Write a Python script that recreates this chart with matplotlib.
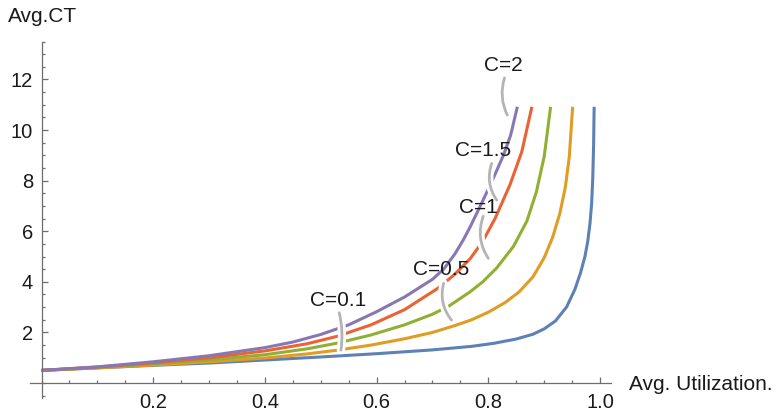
import matplotlib
matplotlib.use("Agg")
import matplotlib.pyplot as plt
import matplotlib.patheffects as pe
from matplotlib.ticker import MultipleLocator, FixedLocator

plt.rcParams["font.family"] = ["Liberation Sans", "DejaVu Sans"]

# values (utilization, average cycle time)
u_c01 = [0, .1, .2, .3, .4, .5, .6, .7, .77, .81, .85, .88, .9, .92, .94, .955,
         .965, .973, .978, .982, .985, .987, .9885, .9895]
ct_c01 = [.5, .6, .7, .79, .91, 1.03, 1.16, 1.31, 1.45, 1.57, 1.74, 1.93, 2.14, 2.45,
          3.0, 3.7, 4.35, 5.0, 5.6, 6.3, 7.1, 8.1, 9.4, 10.92]

u_c05 = [0, .1, .2, .3, .4, .475, .53, .59, .65, .7, .74, .77, .8, .83, .855, .88,
         .9, .915, .928, .938, .945, .951]
ct_c05 = [.5, .6, .71, .84, .99, 1.15, 1.3, 1.5, 1.75, 2.0, 2.27, 2.5, 2.8, 3.18,
          3.6, 4.2, 4.95, 5.75, 6.7, 7.75, 8.95, 10.92]

u_c1 = [0, .1, .2, .3, .4, .475, .53, .59, .65, .7, .73, .767, .79, .815, .845, .869,
        .886, .9, .9115]
ct_c1 = [.5, .62, .76, .92, 1.12, 1.35, 1.58, 1.9, 2.3, 2.72, 3.05, 3.6, 4.0, 4.55,
         5.4, 6.4, 7.55, 8.95, 10.92]

u_c15 = [0, .1, .2, .3, .4, .475, .53, .59, .65, .71, .74, .767, .79, .812, .839,
         .86, .878]
ct_c15 = [.5, .63, .8, 1.0, 1.27, 1.55, 1.85, 2.3, 2.9, 3.75, 4.3, 4.9, 5.6, 6.5,
          7.85, 9.15, 10.92]

u_c2 = [0, .1, .2, .3, .4, .45, .5, .55, .6, .65, .7, .72, .74, .755, .767, .79,
        .81, .827, .84, .852]
ct_c2 = [.5, .64, .84, 1.08, 1.4, 1.62, 1.92, 2.3, 2.82, 3.4, 4.1, 4.5, 5.1, 5.65,
         6.15, 7.2, 8.15, 9.0, 9.8, 10.92]

series = [(u_c01, ct_c01, "#5E81B5"), (u_c05, ct_c05, "#E19C24"),
          (u_c1, ct_c1, "#8FB032"), (u_c15, ct_c15, "#EB6235"),
          (u_c2, ct_c2, "#8778B3")]

# callouts: label, text position, leader start, leader end, bend
callouts = [("C=0.1", (0.531, 3.28), (0.533, 2.78), (0.536, 1.30), -0.1),
            ("C=0.5", (0.715, 4.49), (0.72, 3.94), (0.734, 2.49), 0.25),
            ("C=1", (0.783, 6.95), (0.791, 6.6), (0.80, 4.93), 0.25),
            ("C=1.5", (0.79, 9.21), (0.806, 8.68), (0.815, 7.23), 0.25),
            ("C=2", (0.826, 12.57), (0.829, 12.06), (0.834, 10.59), 0.2)]

fig = plt.figure(figsize=(7.77, 4.13), dpi=100)
ax = fig.add_axes([0.0391, 0.0358, 0.7475, 0.8637])
ax.set_xlim(-0.02, 1.02)
ax.set_ylim(-0.6, 13.5)

for u, ct, col in series:
    ax.plot(u, ct, color=col, lw=2.2, solid_capstyle="butt",
            solid_joinstyle="round", zorder=2)

for lab, txt, p0, p1, rad in callouts:
    ax.annotate("", xy=p1, xytext=p0,
                arrowprops=dict(arrowstyle="-", color="#b4b4b4", lw=2.0,
                                shrinkA=0, shrinkB=0,
                                connectionstyle=f"arc3,rad={rad}",
                                path_effects=[pe.withStroke(linewidth=6, foreground="white")]),
                zorder=3)
    ax.text(txt[0], txt[1], lab, ha="center", va="center", fontsize=15,
            color="#1a1a1a", zorder=4)

axcol = "#6e6e6e"
for side in ("top", "right"):
    ax.spines[side].set_visible(False)
ax.spines["left"].set_position(("data", 0))
ax.spines["bottom"].set_position(("data", 0))
for side in ("left", "bottom"):
    ax.spines[side].set_color(axcol)
    ax.spines[side].set_linewidth(0.9)

ax.xaxis.set_major_locator(FixedLocator([0.2, 0.4, 0.6, 0.8, 1.0]))
ax.xaxis.set_minor_locator(MultipleLocator(0.05))
ax.yaxis.set_major_locator(FixedLocator([2, 4, 6, 8, 10, 12]))
ax.yaxis.set_minor_locator(MultipleLocator(0.5))
ax.set_xticklabels(["0.2", "0.4", "0.6", "0.8", "1.0"])
ax.set_yticklabels(["2", "4", "6", "8", "10", "12"])
ax.tick_params(which="both", direction="in", color=axcol, width=0.9,
               labelsize=14.5, labelcolor="#1a1a1a")
ax.tick_params(which="major", length=4)
ax.tick_params(which="minor", length=2.3)
ax.tick_params(axis="x", which="major", pad=7)
ax.tick_params(axis="y", which="major", pad=6)
ax.patch.set_alpha(0)

fig.text(8 / 777, 1 - 17 / 413, "Avg.CT", ha="left", va="center", fontsize=15,
         color="#1a1a1a")
fig.text(629 / 777, 1 - 384 / 413, "Avg. Utilization.", ha="left", va="center",
         fontsize=15, color="#1a1a1a")

fig.savefig("out.png", dpi=100)
